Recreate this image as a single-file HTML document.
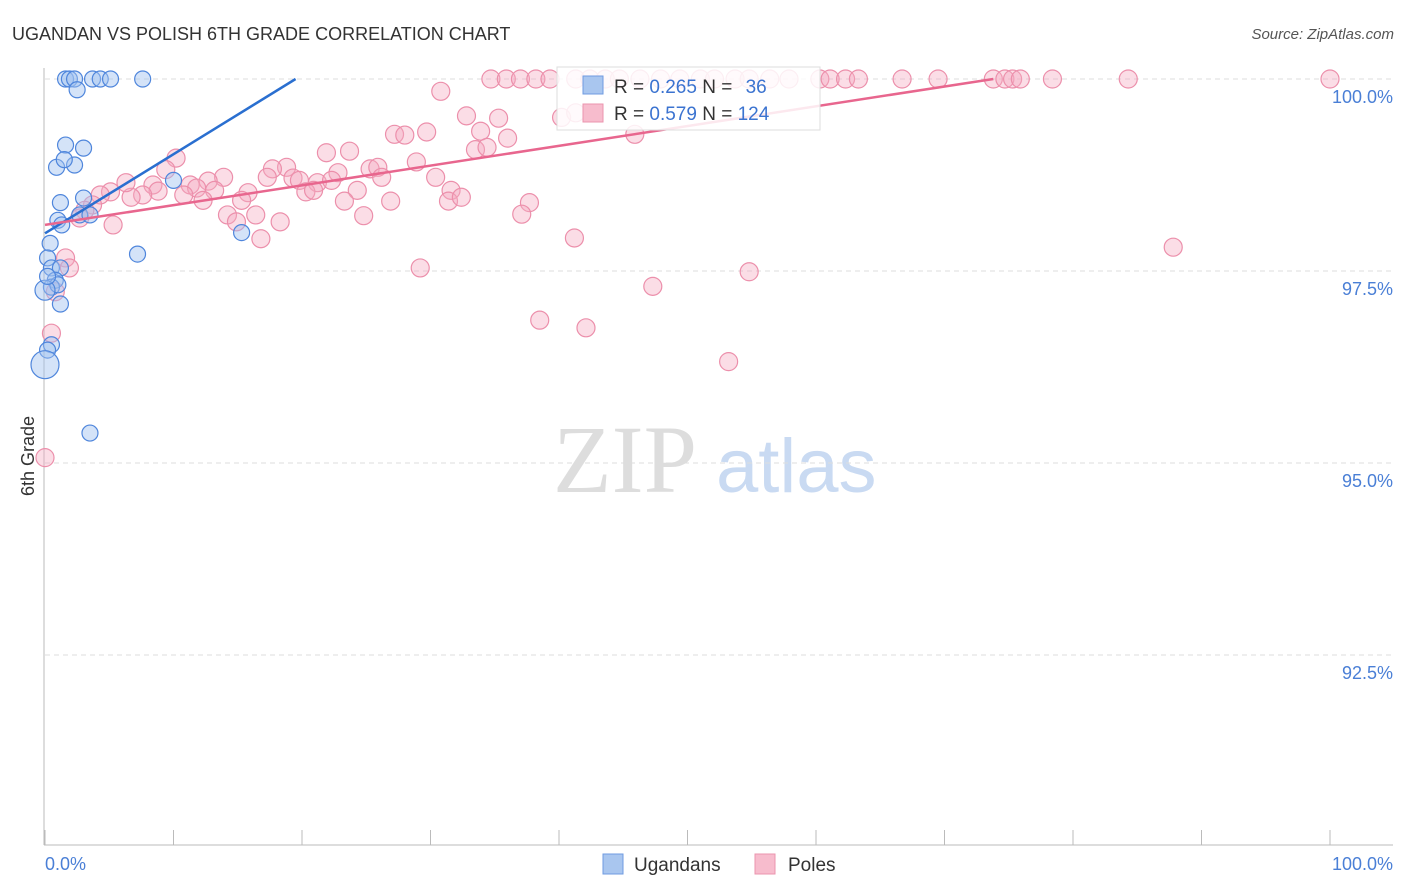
<!DOCTYPE html>
<html><head><meta charset="utf-8"><style>
body{margin:0;background:#fff;font-family:"Liberation Sans",sans-serif;}
svg{display:block}
</style></head><body>
<svg id="chart" width="1406" height="892" xmlns="http://www.w3.org/2000/svg">
<text x="12" y="40" font-size="18" fill="#333">UGANDAN VS POLISH 6TH GRADE CORRELATION CHART</text>
<text x="1394" y="39" font-size="15" fill="#555" font-style="italic" text-anchor="end">Source: ZipAtlas.com</text>
<g>
<text x="553" y="492" font-size="96" font-family="Liberation Serif,serif" fill="#ddd">ZIP</text>
<text x="716" y="492" font-size="76" fill="#c9daf2">atlas</text>
</g>
<g id="grid"></g>
<line x1="44" y1="68" x2="44" y2="845" stroke="#bbb"/>
<line x1="44" y1="845" x2="1393" y2="845" stroke="#bbb"/>
<g id="xticks"></g>
<text x="45" y="870" font-size="18" fill="#4a7fd6">0.0%</text>
<text x="1393" y="870" font-size="18" fill="#4a7fd6" text-anchor="end">100.0%</text>
<text x="34" y="456" font-size="18" fill="#333" text-anchor="middle" transform="rotate(-90 34 456)">6th Grade</text>
<g id="pts"></g>
<g id="lines"></g>
<g>
<rect x="557" y="67" width="263" height="63" fill="#fff" fill-opacity="0.85" stroke="#ddd"/>
<rect x="583" y="76" width="20" height="18" fill="#a9c6ef" stroke="#6f9be0"/>
<rect x="583" y="104" width="20" height="18" fill="#f7bccd" stroke="#eb94ae"/>
<text x="614" y="93" font-size="19" fill="#333">R = <tspan fill="#3b73d0">0.265</tspan>   N = <tspan fill="#3b73d0" dx="8">36</tspan></text>
<text x="614" y="120" font-size="19" fill="#333">R = <tspan fill="#3b73d0">0.579</tspan>   N = <tspan fill="#3b73d0">124</tspan></text>
</g>
<g>
<rect x="603" y="854" width="20" height="20" fill="#a9c6ef" stroke="#6f9be0"/>
<text x="634" y="871" font-size="19" fill="#333">Ugandans</text>
<rect x="755" y="854" width="20" height="20" fill="#f7bccd" stroke="#eb94ae"/>
<text x="788" y="871" font-size="19" fill="#333">Poles</text>
</g>
</svg>
<script>
const yTicks=[100,97.5,95,92.5];
const yTickLabels=["100.0%","97.5%","95.0%","92.5%"];
const xTicks=[0,10,20,30,40,50,60,70,80,90,100];
const ugX=[1.6,1.9,2.3,3.7,4.3,5.1,7.6,2.5,1.6,3.0,0.9,2.3,1.5,1.2,1.0,3.0,2.7,3.5,10,15.3,7.2,0.4,0.2,0.5,1.2,0.8,0.5,1.0,1.2,0.5,0.2,0,3.5,0,1.3,0.2];
const ugY=[100,100,100,100,100,100,100,99.86,99.14,99.1,98.85,98.88,98.95,98.39,98.16,98.45,98.23,98.23,98.68,98.0,97.72,97.86,97.67,97.54,97.54,97.38,97.29,97.32,97.07,96.54,96.47,96.28,95.39,97.25,98.1,97.43];
const ugR=[8,8,8,8,8,8,8,8,8,8,8,8,8,8,8,8,8,8,8,8,8,8,8,8,8,8,8,8,8,8,8,14,8,10,8,8];
const poX=[34.7,35.9,37.0,38.2,39.3,41.3,42.4,43.6,44.7,46.3,47.9,49.4,51.0,52.1,53.7,54.8,56.4,57.9,60.3,61.1,62.3,63.3,66.7,69.5,73.8,74.7,75.3,75.9,78.4,84.3,100,
30.8,32.8,35.3,40.2,41.3,36.0,33.9,27.2,28.0,29.7,33.5,34.4,45.9,23.7,21.9,28.9,30.4,25.3,25.9,26.2,22.8,18.8,17.7,17.3,19.3,19.8,21.2,22.3,24.3,20.3,20.9,23.3,24.8,26.9,31.6,31.4,32.4,37.7,37.1,41.2,29.2,
10.2,9.4,13.9,12.7,11.3,11.8,13.2,15.8,15.3,12.3,10.8,8.4,8.8,7.6,6.7,6.3,5.1,4.3,3.7,3.1,2.7,5.3,14.2,16.4,14.9,18.3,16.8,38.5,42.1,47.3,54.8,53.2,87.8,1.6,1.9,0.8,0.5,0];
const poY=[100,100,100,100,100,100,100,100,100,100,100,100,100,100,100,100,100,100,100,100,100,100,100,100,100,100,100,100,100,100,100,
99.84,99.52,99.49,99.5,99.56,99.23,99.32,99.28,99.27,99.31,99.08,99.11,99.28,99.06,99.04,98.92,98.72,98.83,98.85,98.72,98.78,98.85,98.83,98.72,98.71,98.68,98.65,98.68,98.55,98.53,98.55,98.41,98.22,98.41,98.55,98.41,98.46,98.39,98.24,97.93,97.54,
98.97,98.82,98.72,98.67,98.62,98.58,98.55,98.52,98.42,98.42,98.49,98.62,98.54,98.49,98.46,98.65,98.53,98.49,98.36,98.29,98.19,98.1,98.23,98.23,98.14,98.14,97.92,96.86,96.76,97.3,97.49,96.32,97.81,97.67,97.54,97.23,96.69,95.07];
const poBig={125:16,126:15,127:20,128:18,129:18};
const ugLine=[0,97.99,19.5,100];
const poLine=[0,98.10,73.8,100];
const X=v=>45+v*12.85, Y=v=>79+(100-v)*76.8;
const NS="http://www.w3.org/2000/svg";
function mk(tag,attrs,parent){const e=document.createElementNS(NS,tag);for(const k in attrs)e.setAttribute(k,attrs[k]);parent.appendChild(e);return e;}
const grid=document.getElementById('grid');
yTicks.forEach((t,i)=>{
 const l=mk('line',{x1:45,x2:1393,y1:Y(t),y2:Y(t),stroke:'#ddd','stroke-dasharray':'5,4'},grid);
 
 
 const tx=mk('text',{x:1393,y:Y(t)+24,'font-size':18,fill:'#4a7fd6','text-anchor':'end'},grid);
 tx.textContent=yTickLabels[i];
 
 
});
const xt=document.getElementById('xticks');
xTicks.forEach(t=>{
 const l=mk('line',{x1:X(t),x2:X(t),y1:830,y2:845,stroke:'#bbb'},xt);
 
 
});
const pts=document.getElementById('pts');
poX.forEach((v,i)=>{
 const c=mk('circle',{cx:X(v),cy:Y(poY[i]),r:poBig[i]||9,fill:'#f5a9c0','fill-opacity':0.4,stroke:'#ec8fab','stroke-width':1.2},pts);
 
 
});
ugX.forEach((v,i)=>{
 const c=mk('circle',{cx:X(v),cy:Y(ugY[i]),r:ugR[i],fill:'#9fc0ef','fill-opacity':0.45,stroke:'#4f86dc','stroke-width':1.2},pts);
 
 
});
const lg=document.getElementById('lines');
const a=mk('line',{x1:X(ugLine[0]),y1:Y(ugLine[1]),x2:X(ugLine[2]),y2:Y(ugLine[3]),stroke:'#2a6fd0','stroke-width':2.5},lg);


const b=mk('line',{x1:X(poLine[0]),y1:Y(poLine[1]),x2:X(poLine[2]),y2:Y(poLine[3]),stroke:'#e8668e','stroke-width':2.5},lg);


</script>
</body></html>
